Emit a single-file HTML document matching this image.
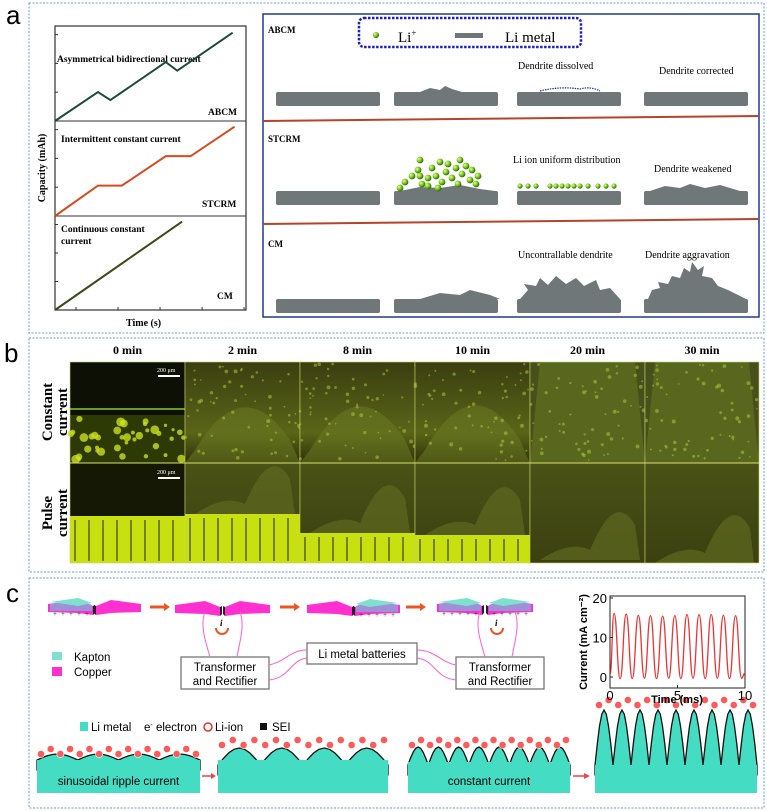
<!DOCTYPE html>
<html><head><meta charset="utf-8"><style>
html,body{margin:0;padding:0;background:#fff;}
svg{display:block;}
text{font-family:"Liberation Serif",serif;}
.sans, .sans text, text.sans{font-family:"Liberation Sans",sans-serif;}
</style></head><body>
<svg id="fig" width="767" height="811" viewBox="0 0 767 811" xmlns="http://www.w3.org/2000/svg">
<defs>
<radialGradient id="ball" cx="35%" cy="35%" r="65%"><stop offset="0" stop-color="#e8ff8a"/><stop offset="0.6" stop-color="#6fbf1a"/><stop offset="1" stop-color="#2d6a08"/></radialGradient>
<linearGradient id="micro" x1="0" y1="0" x2="0" y2="1"><stop offset="0" stop-color="#3a3e10"/><stop offset="0.7" stop-color="#5a6518"/><stop offset="1" stop-color="#2e3008"/></linearGradient>
<linearGradient id="micro2" x1="0" y1="0" x2="0" y2="1"><stop offset="0" stop-color="#4a5216"/><stop offset="1" stop-color="#3b4010"/></linearGradient>
</defs>

<!-- PANEL A -->
<g>
<rect x="29" y="3" width="735" height="330" fill="none" stroke="#6a9bd0" stroke-dasharray="2,1.5" stroke-width="1"/>
<text x="6" y="24" class="sans" font-size="26">a</text>
<g>
<rect x="55" y="26" width="191" height="284" fill="none" stroke="#333" stroke-width="1.2"/>
<line x1="55" y1="121" x2="246" y2="121" stroke="#333"/>
<line x1="55" y1="216" x2="246" y2="216" stroke="#333"/>
<g id="ticks"></g>
<text x="57" y="62" font-size="9.5" font-weight="bold">Asymmetrical bidirectional current</text>
<text x="208" y="115" font-size="9.5" font-weight="bold">ABCM</text>
<text x="61" y="142" font-size="9.5" font-weight="bold">Intermittent constant current</text>
<text x="202" y="207" font-size="9.5" font-weight="bold">STCRM</text>
<text x="61" y="232" font-size="9.5" font-weight="bold">Continuous constant</text>
<text x="61" y="244" font-size="9.5" font-weight="bold">current</text>
<text x="217" y="299" font-size="9.5" font-weight="bold">CM</text>
<text x="126" y="326" font-size="10" font-weight="bold">Time (s)</text>
<text transform="translate(45,168) rotate(-90)" text-anchor="middle" font-size="10" font-weight="bold">Capacity (mAh)</text>
<g id="capLines"></g>
</g>
<g>
<rect x="263" y="14" width="496" height="303" fill="none" stroke="#1f3a8a" stroke-width="1.5"/>
<line x1="263" y1="121" x2="759" y2="116" stroke="#b5442a" stroke-width="2"/>
<line x1="263" y1="224" x2="759" y2="219" stroke="#b5442a" stroke-width="2"/>
<rect x="359" y="18" width="222" height="29" rx="5" fill="none" stroke="#2020c0" stroke-width="2.5" stroke-dasharray="2.5,1.5"/>
<circle cx="376" cy="35" r="3" fill="url(#ball)"/>
<text x="398" y="42" font-size="15">Li<tspan font-size="9" dy="-6">+</tspan></text>
<rect x="455" y="33" width="28" height="5" fill="#6f7778"/>
<text x="505" y="42" font-size="15">Li  metal</text>
<text x="268" y="33" font-size="9" font-weight="bold">ABCM</text>
<text x="268" y="142" font-size="9" font-weight="bold">STCRM</text>
<text x="268" y="247" font-size="9" font-weight="bold">CM</text>
<text x="518" y="69" font-size="10">Dendrite dissolved</text>
<text x="659" y="74" font-size="10">Dendrite corrected</text>
<text x="513" y="163" font-size="10">Li ion uniform distribution</text>
<text x="654" y="172" font-size="10">Dendrite weakened</text>
<text x="518" y="258" font-size="10">Uncontrallable dendrite</text>
<text x="645" y="258" font-size="10">Dendrite aggravation</text>
<g id="bars" fill="#6f7778"></g>
</g>
</g>

<!-- PANEL B -->
<g>
<rect x="29" y="338" width="735" height="234" fill="none" stroke="#6a9bd0" stroke-dasharray="2,1.5"/>
<text x="4" y="362" class="sans" font-size="26">b</text>
<g id="micros"></g>
<text transform="translate(52,412) rotate(-90)" text-anchor="middle" font-size="15" font-weight="bold">Constant</text>
<text transform="translate(67,412) rotate(-90)" text-anchor="middle" font-size="15" font-weight="bold">current</text>
<text transform="translate(52,513) rotate(-90)" text-anchor="middle" font-size="15" font-weight="bold">Pulse</text>
<text transform="translate(67,513) rotate(-90)" text-anchor="middle" font-size="15" font-weight="bold">current</text>
</g>

<!-- PANEL C -->
<g>
<rect x="29" y="578" width="735" height="230" fill="none" stroke="#6a9bd0" stroke-dasharray="2,1.5"/>
<text x="6" y="602" class="sans" font-size="26">c</text>
<g id="devices"></g>
<g class="sans" font-size="11.5">
<rect x="52" y="652" width="10" height="8" fill="#7fe0d0"/><text x="74" y="661">Kapton</text>
<rect x="52" y="667" width="10" height="9" fill="#ff30d0"/><text x="74" y="676">Copper</text>
<rect x="181" y="657" width="88" height="32" fill="#fff" stroke="#777" stroke-width="1.3"/>
<text x="225" y="671" text-anchor="middle">Transformer</text><text x="225" y="685" text-anchor="middle">and Rectifier</text>
<rect x="456" y="657" width="88" height="32" fill="#fff" stroke="#777" stroke-width="1.3"/>
<text x="500" y="671" text-anchor="middle">Transformer</text><text x="500" y="685" text-anchor="middle">and Rectifier</text>
<rect x="307" y="643" width="110" height="21" fill="#fff" stroke="#777" stroke-width="1.3"/>
<text x="362" y="658" text-anchor="middle">Li metal batteries</text>
</g>
<g fill="none" stroke="#ff60c8" stroke-width="1">
<path d="M210,657 C205,640 200,625 205,612"/><path d="M237,657 C240,640 245,625 240,612"/>
<path d="M485,657 C480,640 475,625 480,612"/><path d="M512,657 C515,640 520,625 515,612"/>
<path d="M269,665 C285,662 290,650 307,650"/><path d="M269,680 C290,678 290,660 307,658"/>
<path d="M456,665 C440,662 435,650 417,650"/><path d="M456,680 C435,678 435,660 417,658"/>
</g>
<g class="sans" font-size="11.5">
<rect x="80" y="722" width="8" height="9" fill="#45dcc4"/><text x="91" y="731">Li metal</text>
<text x="144" y="731">e<tspan font-size="7" dy="-4">-</tspan><tspan dy="4"> electron</tspan></text>
<circle cx="208" cy="727" r="4" fill="none" stroke="#e83030" stroke-width="1.5"/><text x="215" y="731">Li-ion</text>
<rect x="260" y="723" width="7" height="7" fill="#111"/><text x="272" y="731">SEI</text>
</g>
<g id="dendrites"></g>
<g id="currentChart"></g>
</g>
</svg>
<script>
const NS='http://www.w3.org/2000/svg';
function mk(tag,attrs,parent){const e=document.createElementNS(NS,tag);for(const k in attrs)e.setAttribute(k,attrs[k]);(parent||document.getElementById('fig')).appendChild(e);return e;}

// ---- Panel a capacity data ----
const abcmTime=[0,2.25,2.9,5.8,6.4,9.3];
const abcmCap=[0,3.05,2.2,6.2,5.3,9.3];
const stcrmTime=[0,2.25,3.5,5.8,7.1,9.4];
const stcrmCap=[0,3.2,3.2,6.3,6.3,9.4];
const cmTime=[0,6.65];
const cmCap=[0,9.3];
const tx=t=>55+t*19.1;
function capY(base){return c=>base-c*9.5;}
const capG=document.getElementById('capLines');
[[abcmTime,abcmCap,121,'#1d4a3a','abcm-line'],[stcrmTime,stcrmCap,216,'#d94a1c','stcrm-line'],[cmTime,cmCap,310,'#3a4a1a','cm-line']].forEach(([T,C,b,col,name])=>{
  const y=capY(b);
  const p=mk('polyline',{points:T.map((t,i)=>tx(t)+','+y(C[i])).join(' '),fill:'none',stroke:col,'stroke-width':2},capG);
  
  
});
const tk=document.getElementById('ticks');
for(let i=1;i<10;i+=2){mk('line',{x1:tx(i*1.1),y1:310,x2:tx(i*1.1),y2:307,stroke:'#333'},tk);}
[[26,121],[121,216],[216,310]].forEach(([a,b])=>{for(let k=1;k<4;k++){const y=b-(b-a)*k/3.3;mk('line',{x1:55,y1:y,x2:58,y2:y,stroke:'#333'},tk);}});

// ---- Li metal bars & dendrites ----
const bars=document.getElementById('bars');
const cols=[276,394,517,644];const rows=[92,191,299];
rows.forEach((y,ri)=>cols.forEach((x,ci)=>{mk('rect',{x:x,y:y,width:104,height:14,rx:2},bars);}));
mk('path',{d:'M420,92 L430,88 L440,90 L445,86 L452,89 L462,92 Z'},bars);
mk('path',{d:'M540,91 Q560,86 580,89 Q590,86 600,91',fill:'none',stroke:'#223388','stroke-width':1.2,'stroke-dasharray':'1.5,1'},bars);
mk('path',{d:'M400,191 L420,187 L440,188 L460,185 L480,189 L495,191 Z'},bars);
mk('path',{d:'M650,191 L665,186 L680,188 L690,184 L705,188 L720,185 L740,191 Z'},bars);
mk('path',{d:'M420,299 L440,293 L460,295 L470,290 L490,295 L500,299 Z'},bars);
mk('path',{d:'M520,299 L528,290 L524,284 L536,286 L540,278 L548,285 L556,276 L566,284 L576,278 L584,286 L596,280 L600,290 L610,288 L620,299 Z'},bars);
mk('path',{d:'M648,299 L652,290 L660,288 L658,282 L668,284 L672,276 L680,278 L684,268 L690,272 L692,262 L698,270 L704,266 L702,276 L712,278 L718,286 L728,290 L746,299 Z'},bars);
const ballsG=mk('g',{});
const ballPts=[[400,188],[405,182],[412,176],[418,170],[420,160],[422,184],[428,178],[432,168],[436,176],[440,162],[442,182],[446,172],[448,164],[452,178],[456,168],[458,184],[460,160],[462,174],[466,166],[470,180],[472,170],[476,184],[478,176],[420,176],[428,186],[438,188]];
ballPts.forEach(([x,y])=>mk('circle',{cx:x,cy:y,r:3.4,fill:'url(#ball)'},ballsG));
[520,528,536,550,556,562,568,574,580,588,598,606,614].forEach(x=>mk('circle',{cx:x,cy:186,r:2.6,fill:'url(#ball)'},ballsG));

// ---- Panel b micrographs ----
const mg=document.getElementById('micros');
const cx=[70,185,300,415,530,645,759];
const headers=['0 min','2 min','8 min','10 min','20 min','30 min'];
let seed=7;function rnd(){seed=(seed*9301+49297)%233280;return seed/233280;}
headers.forEach((h,i)=>{
  const t=mk('text',{x:(cx[i]+cx[i+1])/2,y:354,'text-anchor':'middle','font-size':12,'font-weight':'bold'},mg);t.textContent=h;
  
  
  const w=cx[i+1]-cx[i];
  if(i===0){mk('rect',{x:cx[i],y:362,width:w,height:101,fill:'#0d1005'},mg);
    mk('rect',{x:cx[i],y:408,width:w,height:2,fill:'#6a9a20'},mg);
    mk('rect',{x:cx[i],y:415,width:w,height:48,fill:'#2e3a06'},mg);
    for(let k=0;k<40;k++)mk('circle',{cx:cx[i]+rnd()*w,cy:418+rnd()*44,r:1.5+rnd()*3,fill:'#c8e020',opacity:0.8},mg);}
  else{mk('rect',{x:cx[i],y:362,width:w,height:101,fill:i>=4?'#46501a':'url(#micro)'},mg);
    mk('path',{d:`M${cx[i]+10},${i>=4?362:450} Q${cx[i]+w/2},${i>=4?362:372-i*2} ${cx[i]+w-10},${i>=4?362:440} L${cx[i]+w},463 L${cx[i]},463 Z`,fill:'#6a7a22',opacity:0.55},mg);
    for(let k=0;k<60;k++)mk('circle',{cx:cx[i]+rnd()*w,cy:364+rnd()*97,r:0.8+rnd()*1.2,fill:'#b8d040',opacity:0.5},mg);}
  mk('rect',{x:cx[i],y:463,width:w,height:100,fill:i===0?'#141805':'url(#micro2)'},mg);
  const yl=[516,514,533,535,560,563][i];
  if(i<4){mk('rect',{x:cx[i],y:yl,width:w,height:563-yl,fill:'#c8e010'},mg);
    for(let k=0;k<8;k++)mk('rect',{x:cx[i]+4+k*14,y:yl+4,width:2,height:563-yl-6,fill:'#3a4008',opacity:0.6},mg);}
  if(i>0){mk('path',{d:`M${cx[i]+10},${yl} Q${cx[i]+40},${yl-20} ${cx[i]+60},${yl-10} Q${cx[i]+85},${yl-70} ${cx[i]+105},${yl-35} L${cx[i]+w-5},${yl} Z`,fill:'#5e6a20',opacity:0.7},mg);}
  mk('rect',{x:cx[i],y:362,width:w,height:201,fill:'none',stroke:'#c8d060','stroke-width':0.6},mg);
});
mk('line',{x1:70,y1:463,x2:759,y2:463,stroke:'#d8e070','stroke-width':1},mg);
[[370],[472]].forEach(([y])=>{mk('rect',{x:158,y:y+5,width:22,height:2,fill:'#fff'},mg);const t=mk('text',{x:157,y:y+2,'font-size':6,fill:'#fff'},mg);t.textContent='200 μm';});

// ---- Panel c devices ----
const dv=document.getElementById('devices');
function device(x,y,flip,kap){const g=mk('g',{transform:`translate(${x},${y})${flip?' scale(-1,1)':''}`},dv);
  mk('path',{d:'M0,4 L30,0 L45,6 L45,15 L30,13 L0,12 Z',fill:'#ff30d0'},g);
  if(kap){mk('path',{d:'M2,4 L30,0 L44,5 L44,11 L2,11 Z',fill:'#a090d8'},g);mk('path',{d:'M2,2 L30,-2 L44,3 L30,6 Z',fill:'#7fe0d0'},g);
    for(let k=0;k<5;k++){const t=mk('text',{x:5+k*8,y:16,'font-size':7,fill:'#222'},g);t.textContent='+';}}
  mk('path',{d:'M45,6 L45,15 L47,13 L47,5 Z',fill:'#222'},g);
}
device(48,600,false,true);device(141,600,true,false);
device(175,601,false,false);device(270,601,true,false);
device(307,601,false,false);device(400,601,true,true);
device(437,600,false,true);device(533,600,true,true);
[150,280,406].forEach(x=>{mk('path',{d:`M${x},607 L${x+15},607`,stroke:'#ee5522','stroke-width':3},dv);mk('path',{d:`M${x+14},603 L${x+20},607 L${x+14},611 Z`,fill:'#ee5522'},dv);});
[[222,628],[497,628]].forEach(([x,y])=>{mk('path',{d:`M${x-6},${y} A6,6 0 1,0 ${x+6},${y}`,fill:'none',stroke:'#ee5522','stroke-width':2},dv);const t=mk('text',{x:x-2,y:y-2,'font-size':9,'font-style':'italic','font-weight':'bold'},dv);t.textContent='i';});

// ---- Dendrite sketches ----
const dd=document.getElementById('dendrites');
function block(x,w,top,path,label){
  mk('path',{d:path,fill:'#45dcc4',stroke:'#111','stroke-width':1.3},dd);
  mk('rect',{x:x,y:top,width:w,height:793-top,fill:'#45dcc4'},dd);
  if(label){const t=mk('text',{x:x+w/2,y:785,'text-anchor':'middle','font-size':11.5,class:'sans'},dd);t.textContent=label;}
}
function wavePath(x0,w,base,amp,n){let d=`M${x0},${base+10} L${x0},${base}`;for(let i=0;i<=n*8;i++){const xx=x0+w*i/(n*8);const yy=base-amp*Math.abs(Math.sin(Math.PI*i/8));d+=` L${xx.toFixed(1)},${yy.toFixed(1)}`;}return d+` L${x0+w},${base+10} Z`;}
block(37,163,760,wavePath(37,163,760,6,4),'sinusoidal ripple current');
block(218,170,760,wavePath(218,170,765,17,4),'');
block(408,162,762,wavePath(408,162,765,18,8),'constant current');
block(595,162,765,wavePath(595,162,765,55,9),'');
mk('path',{d:'M202,776 L212,776',stroke:'#ee4444','stroke-width':1.5},dd);mk('path',{d:'M211,773 L216,776 L211,779 Z',fill:'#ee4444'},dd);
mk('path',{d:'M573,776 L585,776',stroke:'#ee4444','stroke-width':1.5},dd);mk('path',{d:'M584,773 L590,776 L584,779 Z',fill:'#ee4444'},dd);
function ions(x0,w,y,n){for(let i=0;i<n;i++){const x=x0+4+i*(w-8)/(n-1);mk('circle',{cx:x,cy:y-(i%2)*5,r:3.6,fill:'#ff5a5a',stroke:'#fff','stroke-width':0.6},dd);}}
ions(37,163,754,17);ions(218,170,745,16);ions(408,162,745,18);ions(595,162,705,17);

// ---- Current chart ----
const timeMs=[0,0.3,0.75,1.2,1.65,2.1,2.55,3.0,3.45,3.9,4.35,4.8,5.25,5.7,6.15,6.6,7.05,7.5,7.95,8.4,8.85,9.3,9.75,10];
const currentVals=[0.5,16.1,-0.4,15.9,-0.4,15.6,-0.3,15.5,-0.4,15.4,-0.3,15.5,-0.4,15.8,-0.3,15.8,-0.4,15.8,-0.3,15.6,-0.4,15.5,-0.3,1];
const xTicks=[0,5,10];const yTicks=[0,10,20];
const cc=document.getElementById('currentChart');
const X=t=>610+t*13.5, Y=v=>677-v*3.95;
mk('rect',{x:610,y:596,width:135,height:92,fill:'none',stroke:'#222','stroke-width':1},cc);
let d='M'+X(timeMs[0])+','+Y(currentVals[0]);
for(let i=1;i<timeMs.length;i++){const xm=(X(timeMs[i-1])+X(timeMs[i]))/2;d+=` C${xm},${Y(currentVals[i-1])} ${xm},${Y(currentVals[i])} ${X(timeMs[i])},${Y(currentVals[i])}`;}
const cl=mk('path',{d:d,fill:'none',stroke:'#ee3333','stroke-width':1.3},cc);


xTicks.forEach(t=>{mk('line',{x1:X(t),y1:688,x2:X(t),y2:685,stroke:'#222'},cc);const e=mk('text',{x:X(t),y:700,'text-anchor':'middle','font-size':13,class:'sans'},cc);e.textContent=t;
  
  });
yTicks.forEach(v=>{mk('line',{x1:610,y1:Y(v),x2:613,y2:Y(v),stroke:'#222'},cc);const e=mk('text',{x:607,y:Y(v)+5,'text-anchor':'end','font-size':13,class:'sans'},cc);e.textContent=v;
  
  });
const xt=mk('text',{x:677,y:703,'text-anchor':'middle','font-size':11,'font-weight':'bold',class:'sans'},cc);xt.textContent='Time (ms)';


const yt=mk('text',{transform:'translate(587,642) rotate(-90)','text-anchor':'middle','font-size':11,'font-weight':'bold',class:'sans'},cc);yt.textContent='Current (mA cm⁻²)';


</script>
</body></html>
